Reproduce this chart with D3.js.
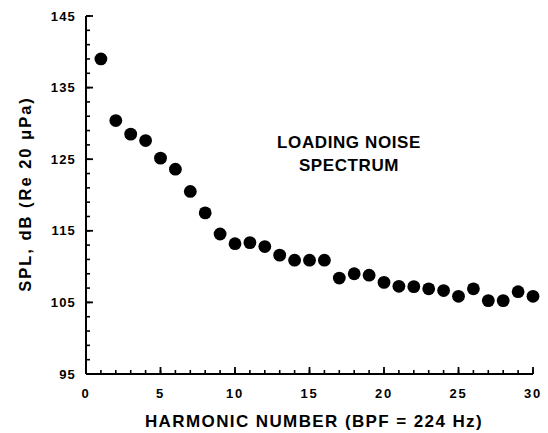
<!DOCTYPE html>
<html><head><meta charset="utf-8">
<script src="https://cdn.jsdelivr.net/npm/d3@7"></script>
<style>
body{margin:0;background:#fff;}
svg text{font-family:"Liberation Sans",Arial,sans-serif;font-weight:bold;fill:#000;}
</style></head>
<body><svg id="c" width="548" height="433"></svg>
<script>
const harmonics = d3.range(1, 31);
const spl = [139.0,130.4,128.5,127.6,125.15,123.6,120.5,117.5,114.55,113.2,
             113.35,112.8,111.6,110.9,110.9,110.9,108.4,109.0,108.8,107.8,
             107.25,107.2,106.9,106.65,105.85,106.9,105.25,105.25,106.5,105.85];
const xTicks = [0,5,10,15,20,25,30];
const yTicks = [95,105,115,125,135,145];
const xTitle = "HARMONIC NUMBER (BPF = 224 Hz)";
const yTitle = "SPL, dB (Re 20 \u03BCPa)";
const note = ["LOADING NOISE","SPECTRUM"];

const svg = d3.select("#c");
const L=86, R=533, T=16, B=374;
const x = d3.scaleLinear().domain([0,30]).range([L,R]);
const y = d3.scaleLinear().domain([95,145]).range([B,T]);

// axis lines
svg.append("line").attr("x1",L).attr("x2",L).attr("y1",T).attr("y2",B).attr("stroke","#000").attr("stroke-width",2);
svg.append("line").attr("x1",L).attr("x2",R).attr("y1",B).attr("y2",B).attr("stroke","#000").attr("stroke-width",2);

// y ticks (inward)
svg.selectAll(".ymn").data(d3.range(95,146,2)).enter().append("line")
  .attr("x1",L).attr("x2",L+4).attr("y1",d=>y(d)).attr("y2",d=>y(d)).attr("stroke","#000").attr("stroke-width",1.6);
svg.selectAll(".ymj").data(yTicks).enter().append("line")
  .attr("x1",L).attr("x2",L+7).attr("y1",d=>y(d)).attr("y2",d=>y(d)).attr("stroke","#000").attr("stroke-width",1.8);
svg.selectAll(".ylab").data(yTicks).enter().append("text")
  .attr("x",L-10).attr("y",d=>y(d)).attr("dy","0.35em").attr("text-anchor","end")
  .attr("font-size",13).attr("letter-spacing",1.2).text(d=>d);

// x ticks (inward)
svg.selectAll(".xmn").data(d3.range(0,31)).enter().append("line")
  .attr("x1",d=>x(d)).attr("x2",d=>x(d)).attr("y1",B).attr("y2",B-4).attr("stroke","#000").attr("stroke-width",1.6);
svg.selectAll(".xmj").data(xTicks).enter().append("line")
  .attr("x1",d=>x(d)).attr("x2",d=>x(d)).attr("y1",B).attr("y2",B-7).attr("stroke","#000").attr("stroke-width",1.8);
svg.selectAll(".xlab").data(xTicks).enter().append("text")
  .attr("x",d=>x(d)).attr("y",B+24).attr("text-anchor","middle")
  .attr("font-size",13).attr("letter-spacing",1.8).text(d=>d);

// titles
svg.append("text").attr("x",314).attr("y",427).attr("text-anchor","middle")
  .attr("font-size",17).attr("letter-spacing",1.4).text(xTitle);
svg.append("text").attr("transform",`translate(31,194) rotate(-90)`).attr("text-anchor","middle")
  .attr("font-size",16.5).attr("letter-spacing",2).text(yTitle);

// annotation
svg.selectAll(".note").data(note).enter().append("text")
  .attr("x",349).attr("y",(d,i)=>148+i*23).attr("text-anchor","middle")
  .attr("font-size",17).attr("letter-spacing",0.6).text(d=>d);

// points
svg.selectAll(".pt").data(harmonics).enter().append("circle")
  .attr("cx",d=>x(d)).attr("cy",(d,i)=>y(spl[i])).attr("r",6.4).attr("fill","#000");
</script></body></html>
